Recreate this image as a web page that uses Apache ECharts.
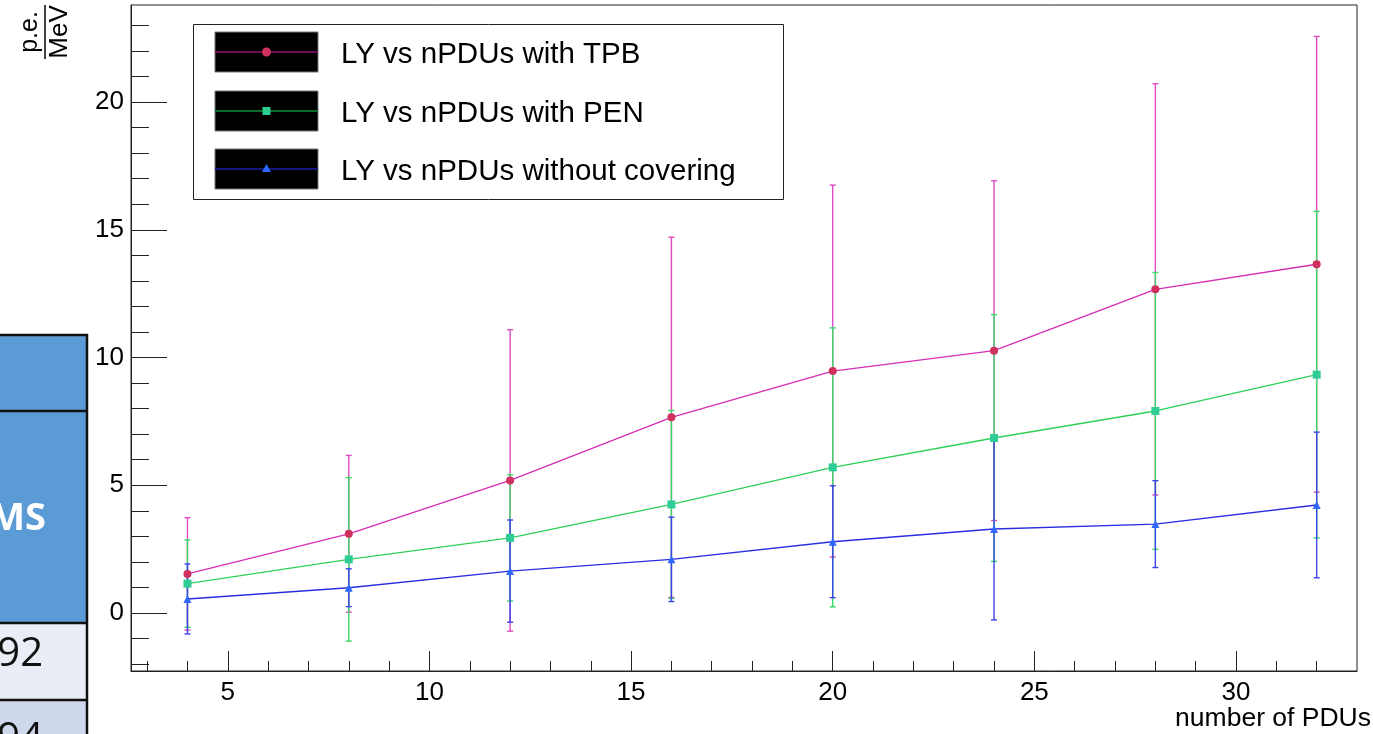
<!DOCTYPE html>
<html>
<head>
<meta charset="utf-8">
<title>LY vs nPDUs</title>
<script src="https://cdn.jsdelivr.net/npm/echarts@6/dist/echarts.min.js"></script>
<style>
  html, body { margin: 0; padding: 0; background: #fff; }
  #chart { width: 1373px; height: 734px; }
</style>
</head>
<body>
<div id="chart"></div>
<script>
// Light yield (p.e./MeV) as a function of the number of PDUs
const nPDUs = [4, 8, 12, 16, 20, 24, 28, 32];

const lyTPB  = [1.53, 3.10, 5.19, 7.66, 9.47, 10.27, 12.67, 13.65];
const errTPB = [2.20, 3.07, 5.90, 7.05, 7.28, 6.65, 8.05, 8.92];

const lyPEN  = [1.15, 2.10, 2.94, 4.25, 5.70, 6.85, 7.91, 9.33];
const errPEN = [1.71, 3.20, 2.47, 3.68, 5.46, 4.83, 5.42, 6.39];

const lyBare  = [0.55, 0.99, 1.64, 2.10, 2.79, 3.29, 3.48, 4.23];
const errBare = [1.37, 0.74, 2.00, 1.65, 2.19, 3.56, 1.70, 2.85];

const seriesNames = [
  'LY vs nPDUs with TPB',
  'LY vs nPDUs with PEN',
  'LY vs nPDUs without covering'
];

// Axis tick values
const xMajorTicks = [5, 10, 15, 20, 25, 30];
const xMinorTicks = [3, 4, 6, 7, 8, 9, 11, 12, 13, 14, 16, 17, 18, 19, 21, 22, 23, 24, 26, 27, 28, 29, 31, 32];
const yMajorTicks = [0, 5, 10, 15, 20];
const yMinorTicks = [-2, -1, 1, 2, 3, 4, 6, 7, 8, 9, 11, 12, 13, 14, 16, 17, 18, 19, 21, 22, 23];

// Table cells partly visible at the left edge
const tableCells = ['RMS', '92', '94'];

const FONT = '"Liberation Sans", Arial, Helvetica, sans-serif';

const styles = [
  { line: '#d62fb5', err: '#de4cc2', marker: '#d0305e', symbol: 'circle', size: 8, legendLine: '#6e0b55' },
  { line: '#2ed158', err: '#3ad865', marker: '#2fcc96', symbol: 'rect', size: 8, legendLine: '#0c6a28' },
  { line: '#2a2ee0', err: '#3a45e6', marker: '#3068ff', symbol: 'triangle', size: 8, legendLine: '#15177a' }
];

const datasets = [
  { y: lyTPB, e: errTPB },
  { y: lyPEN, e: errPEN },
  { y: lyBare, e: errBare }
];

function errorBars(idx) {
  const d = datasets[idx];
  const color = styles[idx].err;
  return {
    type: 'custom',
    name: seriesNames[idx] + ' errors',
    xAxisIndex: 0,
    yAxisIndex: 0,
    silent: true,
    z: 2 + idx,
    data: nPDUs.map((x, i) => [x, d.y[i], d.e[i]]),
    encode: { x: 0, y: 1 },
    renderItem(params, api) {
      const x = api.value(0), y = api.value(1), e = api.value(2);
      const top = api.coord([x, y + e]);
      const bot = api.coord([x, y - e]);
      const cap = 3;
      const st = { stroke: color, lineWidth: 1.4 };
      return {
        type: 'group',
        children: [
          { type: 'line', shape: { x1: top[0], y1: top[1], x2: bot[0], y2: bot[1] }, style: st },
          { type: 'line', shape: { x1: top[0] - cap, y1: top[1], x2: top[0] + cap, y2: top[1] }, style: st },
          { type: 'line', shape: { x1: bot[0] - cap, y1: bot[1], x2: bot[0] + cap, y2: bot[1] }, style: st }
        ]
      };
    }
  };
}

function lineSeries(idx) {
  const d = datasets[idx];
  const s = styles[idx];
  return {
    type: 'line',
    name: seriesNames[idx],
    xAxisIndex: 0,
    yAxisIndex: 0,
    data: nPDUs.map((x, i) => [x, d.y[i]]),
    symbol: s.symbol,
    symbolSize: s.size,
    showAllSymbol: true,
    z: 10 + idx,
    lineStyle: { color: s.line, width: 1.4 },
    itemStyle: { color: s.marker, borderWidth: 0 },
    emphasis: { disabled: true },
    animation: false
  };
}

// Legend drawn as a framed box with black swatches
function legendGraphics() {
  const box = { x: 193, y: 24, w: 590, h: 175 };
  const rowY = [52, 111, 169];
  const sw = { x: 215, w: 103, h: 40 };
  const els = [{
    type: 'rect',
    shape: { x: box.x + 0.5, y: box.y + 0.5, width: box.w, height: box.h },
    style: { fill: '#fff', stroke: '#222', lineWidth: 1 },
    z: 50
  }];
  rowY.forEach((cy, i) => {
    const s = styles[i];
    const mx = sw.x + sw.w / 2;
    els.push({
      type: 'rect',
      shape: { x: sw.x, y: cy - sw.h / 2, width: sw.w, height: sw.h },
      style: { fill: '#000', stroke: '#777', lineWidth: 1 },
      z: 51
    });
    els.push({
      type: 'line',
      shape: { x1: sw.x, y1: cy, x2: sw.x + sw.w, y2: cy },
      style: { stroke: s.legendLine, lineWidth: 2 },
      z: 52
    });
    if (s.symbol === 'circle') {
      els.push({ type: 'circle', shape: { cx: mx, cy: cy, r: 4.5 }, style: { fill: s.marker }, z: 53 });
    } else if (s.symbol === 'rect') {
      els.push({ type: 'rect', shape: { x: mx - 4, y: cy - 4, width: 8, height: 8 }, style: { fill: s.marker }, z: 53 });
    } else {
      els.push({ type: 'polygon', shape: { points: [[mx, cy - 5], [mx - 4.5, cy + 3], [mx + 4.5, cy + 3]] }, style: { fill: s.marker }, z: 53 });
    }
    els.push({
      type: 'text',
      x: 341, y: cy + 3,
      style: { text: seriesNames[i], font: '29.5px ' + FONT, fill: '#000', textVerticalAlign: 'middle', textAlign: 'left' },
      z: 53
    });
  });
  return els;
}

// Fragment of a table on the left
function tableGraphics() {
  const blue = '#5b9bd5';
  const els = [
    { type: 'rect', shape: { x: -5, y: 335, width: 92, height: 76 }, style: { fill: blue }, z: 60 },
    { type: 'rect', shape: { x: -5, y: 411, width: 92, height: 212 }, style: { fill: blue }, z: 60 },
    { type: 'rect', shape: { x: -5, y: 623, width: 92, height: 77 }, style: { fill: '#e9edf6' }, z: 60 },
    { type: 'rect', shape: { x: -5, y: 700, width: 92, height: 40 }, style: { fill: '#cfd7ea' }, z: 60 }
  ];
  const lines = [
    [-5, 335, 88, 335], [-5, 411, 88, 411], [-5, 623, 88, 623], [-5, 700, 88, 700], [87, 334, 87, 740]
  ];
  lines.forEach(l => els.push({
    type: 'line', shape: { x1: l[0], y1: l[1], x2: l[2], y2: l[3] },
    style: { stroke: '#111', lineWidth: 2.5 }, z: 61
  }));
  els.push({
    type: 'text', x: 46, y: 519,
    style: { text: tableCells[0], font: 'bold 38px "Open Sans", "Noto Sans", sans-serif', fill: '#fff', textAlign: 'right', textVerticalAlign: 'middle' },
    z: 62
  });
  els.push({
    type: 'text', x: 43, y: 655,
    style: { text: tableCells[1], font: '40px "Open Sans", "Noto Sans", sans-serif', fill: '#111', textAlign: 'right', textVerticalAlign: 'middle' },
    z: 62
  });
  els.push({
    type: 'text', x: 43, y: 740,
    style: { text: tableCells[2], font: '40px "Open Sans", "Noto Sans", sans-serif', fill: '#111', textAlign: 'right', textVerticalAlign: 'middle' },
    z: 62
  });
  return els;
}

// Axis titles
function titleGraphics() {
  return [
    {
      type: 'group', x: 45, y: 32, rotation: Math.PI / 2, z: 40,
      children: [
        { type: 'text', x: 0, y: -2, style: { text: 'p.e.', font: '25px ' + FONT, fill: '#000', textAlign: 'center', textVerticalAlign: 'bottom' } },
        { type: 'line', shape: { x1: -27, y1: 0, x2: 27, y2: 0 }, style: { stroke: '#000', lineWidth: 1.5 } },
        { type: 'text', x: 0, y: 2, style: { text: 'MeV', font: '26px ' + FONT, fill: '#000', textAlign: 'center', textVerticalAlign: 'top' } }
      ]
    },
    {
      type: 'text', x: 1371, y: 719, z: 40,
      style: { text: 'number of PDUs', font: '26.5px ' + FONT, fill: '#000', textAlign: 'right', textVerticalAlign: 'middle' }
    }
  ];
}

const xMin = 2.6, xMax = 33.0;
const yMin = -2.27, yMax = 23.8;

const option = {
  backgroundColor: '#fff',
  animation: false,
  grid: {
    left: 131, top: 5, right: 16, bottom: 63,
    containLabel: false,
    outerBoundsMode: 'none',
    show: true, borderColor: '#222', borderWidth: 1, backgroundColor: 'transparent'
  },
  xAxis: [
    {
      type: 'value', position: 'bottom', min: xMin, max: xMax,
      axisLine: { show: true, onZero: false, lineStyle: { color: '#222', width: 1 } },
      axisTick: { show: true, inside: true, length: 20, customValues: xMajorTicks, lineStyle: { color: '#222', width: 1 } },
      axisLabel: { show: true, customValues: xMajorTicks, margin: 9, fontSize: 26, fontFamily: FONT, color: '#000' },
      splitLine: { show: false }
    },
    {
      type: 'value', position: 'bottom', min: xMin, max: xMax,
      axisLine: { show: false, onZero: false },
      axisTick: { show: true, inside: true, length: 10, customValues: xMinorTicks, lineStyle: { color: '#222', width: 1 } },
      axisLabel: { show: false },
      splitLine: { show: false }
    }
  ],
  yAxis: [
    {
      type: 'value', position: 'left', min: yMin, max: yMax,
      axisLine: { show: true, onZero: false, lineStyle: { color: '#222', width: 1 } },
      axisTick: { show: true, inside: true, length: 36, customValues: yMajorTicks, lineStyle: { color: '#222', width: 1 } },
      axisLabel: { show: true, customValues: yMajorTicks, margin: 7, fontSize: 26, fontFamily: FONT, color: '#000' },
      splitLine: { show: false }
    },
    {
      type: 'value', position: 'left', min: yMin, max: yMax,
      axisLine: { show: false, onZero: false },
      axisTick: { show: true, inside: true, length: 18, customValues: yMinorTicks, lineStyle: { color: '#222', width: 1 } },
      axisLabel: { show: false },
      splitLine: { show: false }
    }
  ],
  series: [
    errorBars(0), lineSeries(0),
    errorBars(1), lineSeries(1),
    errorBars(2), lineSeries(2)
  ],
  graphic: { elements: [].concat(titleGraphics(), legendGraphics(), tableGraphics()) }
};

const chart = echarts.init(document.getElementById('chart'), null, { renderer: 'canvas' });
chart.setOption(option);
</script>
</body>
</html>
